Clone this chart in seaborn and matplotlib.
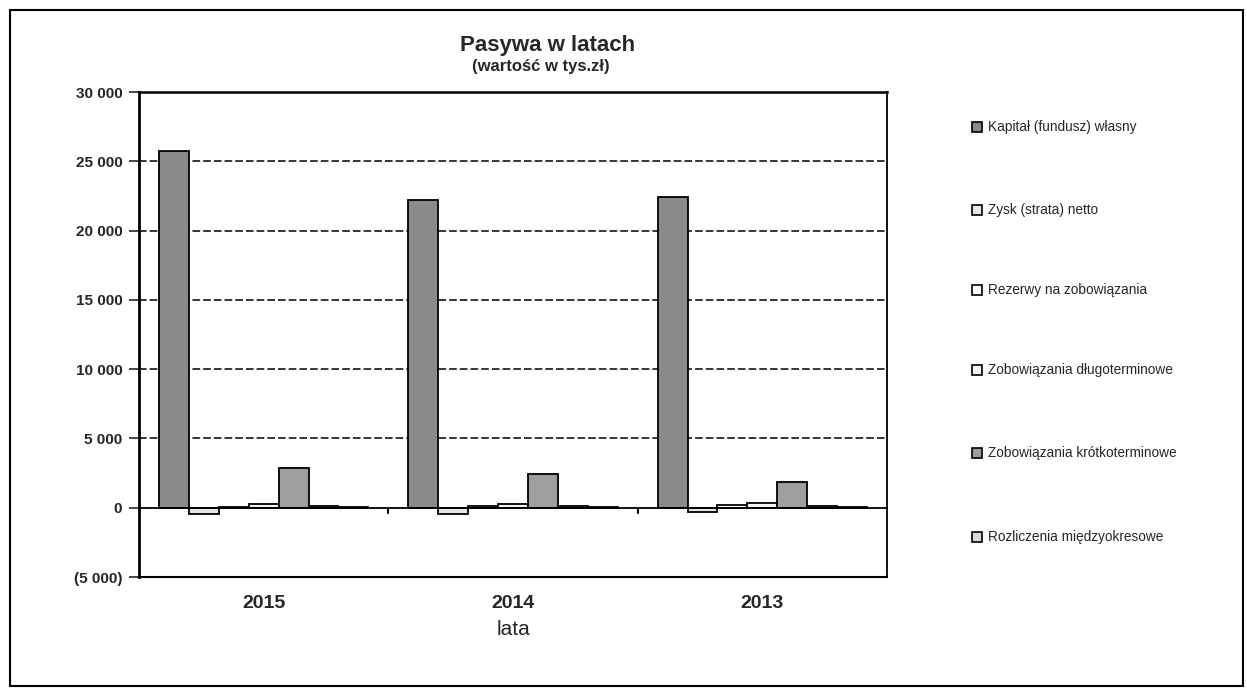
import pandas as pd
import numpy as np
import seaborn as sns
import matplotlib.pyplot as plt
from matplotlib.patches import Rectangle
from matplotlib.ticker import FuncFormatter

# Values (tys. zł)
years = ['2015', '2014', '2013']
series = ['Kapitał (fundusz) własny', 'Zysk (strata) netto', 'Rezerwy na zobowiązania',
          'Zobowiązania długoterminowe', 'Zobowiązania krótkoterminowe',
          'Rozliczenia międzyokresowe', '_puste']
kapital = [25730, 22200, 22450]
zysk = [-450, -460, -300]
rezerwy = [30, 140, 220]
zob_dlugo = [240, 260, 350]
zob_krotko = [2830, 2420, 1840]
rozliczenia = [100, 90, 140]
puste = [20, 20, 20]

values = [kapital, zysk, rezerwy, zob_dlugo, zob_krotko, rozliczenia, puste]
rows = []
for name, vals in zip(series, values):
    for y, v in zip(years, vals):
        rows.append({'lata': y, 'seria': name, 'wartosc': v})
df = pd.DataFrame(rows)

fills = ['#8a8a8a', '#e6e6e6', '#ffffff', '#f2f2f2', '#9e9e9e', '#d8d8d8', '#ffffff']

sns.set_style('white')
plt.rcParams['font.family'] = ['Liberation Sans', 'DejaVu Sans']

fig = plt.figure(figsize=(12.47, 6.88), dpi=100)
ax = fig.add_axes([139 / 1247, 1 - 577 / 688, (887 - 139) / 1247, (577 - 92) / 688])

sns.barplot(data=df, x='lata', y='wartosc', hue='seria', order=years, hue_order=series,
            palette=fills, width=0.84, edgecolor='black', linewidth=1.3,
            errorbar=None, legend=False, ax=ax)

ax.set_ylim(-5000, 30000)
ax.set_yticks(np.arange(-5000, 30001, 5000))


def fmt(v, pos):
    s = f"{abs(v):,.0f}".replace(',', ' ')
    return f"({s})" if v < 0 else s


ax.yaxis.set_major_formatter(FuncFormatter(fmt))
for t in ax.get_yticklabels():
    t.set_fontweight('bold')
ax.tick_params(axis='y', labelsize=11, length=7, width=1.2, direction='out', left=True, pad=5)
ax.tick_params(axis='x', labelsize=14, length=0, pad=13)
for t in ax.get_xticklabels():
    t.set_fontweight('bold')

for v in range(5000, 30000, 5000):
    ax.axhline(v, color='black', linestyle=(0, (5, 2)), linewidth=1.1, zorder=0)
ax.axhline(0, color='black', linewidth=1.3, zorder=3)
for xb in [0.5, 1.5]:
    ax.plot([xb, xb], [0, -400], color='black', linewidth=1.5, zorder=3)
ax.set_xlim(-0.5, 2.5)

for side in ['left', 'bottom', 'top', 'right']:
    ax.spines[side].set_visible(True)
    ax.spines[side].set_color('black')
ax.spines['left'].set_linewidth(2)
ax.spines['bottom'].set_linewidth(1.5)
ax.spines['top'].set_linewidth(1.8)
ax.spines['right'].set_linewidth(1.3)

ax.set_xlabel('lata', fontsize=15, labelpad=6)
ax.set_ylabel('')

fig.text(548 / 1247, 1 - 45 / 688, 'Pasywa w latach', ha='center', va='center',
         fontsize=16, fontweight='bold')
fig.text(541 / 1247, 1 - 67 / 688, '(wartość w tys.zł)', ha='center', va='center',
         fontsize=12, fontweight='bold')

# legend: one entry per row, spread down the right side
leg_y = [127, 210, 290, 370, 453, 537]
for name, col, yy in zip(series[:6], fills[:6], leg_y):
    fig.patches.append(Rectangle((972 / 1247, 1 - (yy + 5) / 688), 10 / 1247, 10 / 688,
                                 facecolor=col, edgecolor='black', linewidth=1.2,
                                 transform=fig.transFigure, figure=fig))
    fig.text(988 / 1247, 1 - yy / 688, name, ha='left', va='center', fontsize=9.8)

# outer frame of the chart
fig.patches.append(Rectangle((10 / 1247, 2 / 688), 1233 / 1247, 676 / 688, fill=False,
                             edgecolor='black', linewidth=1.5,
                             transform=fig.transFigure, figure=fig))

fig.savefig('out.png', dpi=100)
